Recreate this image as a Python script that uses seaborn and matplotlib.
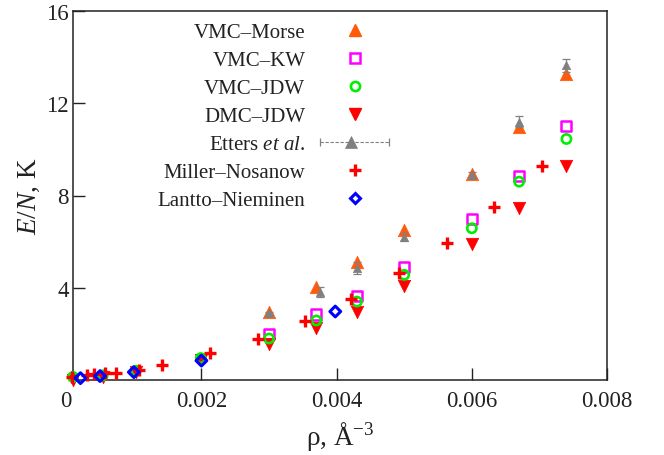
import numpy as np
import matplotlib
matplotlib.use("Agg")
import matplotlib.pyplot as plt
import seaborn as sns
from matplotlib.lines import Line2D
from matplotlib.legend_handler import HandlerBase
from matplotlib.transforms import blended_transform_factory

# ---------------- data ----------------
morse_x = [0.0030, 0.0037, 0.0043, 0.0050, 0.0060, 0.0067, 0.0074]
morse_y = [2.97, 4.04, 5.12, 6.50, 8.92, 10.95, 13.25]

kw_x = [0.0030, 0.0037, 0.0043, 0.0050, 0.0060, 0.0067, 0.0074]
kw_y = [1.98, 2.84, 3.66, 4.88, 7.00, 8.86, 11.00]

jdw_x = [0.0001, 0.00054, 0.00103, 0.00199, 0.0030, 0.0037, 0.0043, 0.0050, 0.0060, 0.0067, 0.0074]
jdw_y = [0.13, 0.20, 0.40, 0.95, 1.80, 2.58, 3.40, 4.56, 6.58, 8.60, 10.45]

dmc_x = [0.0001, 0.00054, 0.00103, 0.00199, 0.0030, 0.0037, 0.0043, 0.0050, 0.0060, 0.0067, 0.0074]
dmc_y = [0.02, 0.15, 0.33, 0.85, 1.55, 2.24, 2.97, 4.09, 5.90, 7.44, 9.27]

etters_x = [0.0030, 0.00376, 0.0043, 0.0050, 0.0060, 0.0067, 0.0074]
etters_y = [2.92, 3.82, 4.86, 6.20, 8.90, 11.20, 13.65]
etters_err = [0.05, 0.20, 0.25, 0.17, 0.10, 0.25, 0.28]

mn_x = [0.00009, 0.00030, 0.00041, 0.00058, 0.00073, 0.00108, 0.00142, 0.00212,
        0.00283, 0.00353, 0.00422, 0.00493, 0.00563, 0.00633, 0.00704]
mn_y = [0.13, 0.20, 0.25, 0.30, 0.30, 0.45, 0.65, 1.16,
        1.76, 2.54, 3.53, 4.65, 5.94, 7.50, 9.27]

ln_x = [0.00021, 0.00050, 0.00100, 0.00200, 0.00398]
ln_y = [0.08, 0.17, 0.34, 0.84, 2.97]

labels = ["VMC\u2013Morse", "VMC\u2013KW", "VMC\u2013JDW", "DMC\u2013JDW",
          r"Etters $\mathit{et\ al.}$", "Miller\u2013Nosanow", "Lantto\u2013Nieminen"]
xticks = [0.002, 0.004, 0.006, 0.008]
xtick_labels = ["0.002", "0.004", "0.006", "0.008"]
yticks = [4, 8, 12, 16]

# ---------------- style ----------------
sns.set_style("ticks")
plt.rcParams["font.family"] = ["Liberation Serif", "DejaVu Serif"]
plt.rcParams["mathtext.fontset"] = "custom"
plt.rcParams["mathtext.rm"] = "Liberation Serif"
plt.rcParams["mathtext.it"] = "Liberation Serif:italic"
plt.rcParams["mathtext.bf"] = "Liberation Serif:bold"

C_MORSE = "#ff5a0a"
C_KW = "#ff00ff"
C_JDW = "#00ee00"
C_DMC = "#ff0000"
C_ETT = "#808080"
C_MN = "#ff0000"
C_LN = "#0000ff"
C_TXT = "#222222"

fig = plt.figure(figsize=(6.64, 4.56), dpi=100)
ax = fig.add_axes([73 / 664, 1 - 381 / 456, (607 - 73) / 664, (381 - 12) / 456])

common = dict(ax=ax, legend=False, clip_on=False, zorder=3)
sns.scatterplot(x=morse_x, y=morse_y, marker="^", s=80, color=C_MORSE,
                edgecolor=C_MORSE, linewidth=0.5, **common)
sns.scatterplot(x=kw_x, y=kw_y, marker="s", s=52, color=C_KW,
                facecolor="none", edgecolor=C_KW, linewidth=1.8, **common)
sns.scatterplot(x=dmc_x, y=dmc_y, marker="v", s=80, color=C_DMC,
                edgecolor=C_DMC, linewidth=0.5, **common)
sns.scatterplot(x=jdw_x, y=jdw_y, marker="o", s=44, color=C_JDW,
                facecolor="none", edgecolor=C_JDW, linewidth=1.9, **common)
ax.errorbar(etters_x, etters_y, yerr=etters_err, fmt="none", ecolor=C_ETT,
            elinewidth=0.9, capsize=3, capthick=0.9, zorder=4, clip_on=False)
sns.scatterplot(x=etters_x, y=etters_y, marker="^", s=36, color=C_ETT,
                edgecolor=C_ETT, linewidth=0.5, ax=ax, legend=False, zorder=4, clip_on=False)
sns.scatterplot(x=mn_x, y=mn_y, marker="+", s=72, color=C_MN,
                linewidth=2.4, **common)
sns.scatterplot(x=ln_x, y=ln_y, marker="D", s=30, color=C_LN,
                facecolor="none", edgecolor=C_LN, linewidth=2.2, ax=ax, legend=False,
                zorder=5, clip_on=False)

ax.set_xlim(0.0001, 0.008)
ax.set_ylim(0, 16)
ax.set_xticks(xticks)
ax.set_xticklabels(xtick_labels)
ax.set_yticks(yticks)
ax.tick_params(axis="both", which="major", direction="in", length=8.5, width=1.0,
               labelsize=16.5, colors=C_TXT, top=False, right=False)
ax.tick_params(axis="y", pad=3)
ax.tick_params(axis="x", pad=7)
for sp in ax.spines.values():
    sp.set_linewidth(1.1)
    sp.set_color(C_TXT)
    sp.set_visible(True)

# "0" label at x = 0 (outside the shown range)
trans = blended_transform_factory(ax.transData, ax.transAxes)
ax.text(0.0, -0.027, "0", transform=trans, ha="center", va="top", fontsize=16.5,
        color=C_TXT, clip_on=False)

ax.set_xlabel("\u03c1, \u00c5$^{-3}$", fontsize=19.5, color=C_TXT, labelpad=6)
ax.set_ylabel(r"$\mathit{E/N}$, K", fontsize=19.5, color=C_TXT, labelpad=3)


class EttersHandler(HandlerBase):
    def create_artists(self, legend, orig_handle, xdescent, ydescent, width, height,
                       fontsize, trans):
        y = height / 2.0 - ydescent
        x0, x1 = -xdescent, width - xdescent
        line = Line2D([x0, x1], [y, y], color=C_ETT, lw=0.8, ls=(0, (3, 1.5)))
        caps = Line2D([x0, x1], [y, y], color=C_ETT, ls="none", marker="|",
                      markersize=6, markeredgewidth=0.9)
        mk = Line2D([(x0 + x1) / 2.0 - 3], [y], color=C_ETT, ls="none", marker="^",
                    markersize=8.5, markeredgewidth=0.5)
        for a in (line, caps, mk):
            a.set_transform(trans)
        return [line, caps, mk]


h_morse = Line2D([], [], ls="none", marker="^", ms=8.9, color=C_MORSE, mec=C_MORSE)
h_kw = Line2D([], [], ls="none", marker="s", ms=7.2, mfc="none", mec=C_KW, mew=1.8)
h_jdw = Line2D([], [], ls="none", marker="o", ms=6.6, mfc="none", mec=C_JDW, mew=1.9)
h_dmc = Line2D([], [], ls="none", marker="v", ms=8.9, color=C_DMC, mec=C_DMC)
h_ett = Line2D([], [], ls="none", marker="^", color=C_ETT)
h_mn = Line2D([], [], ls="none", marker="+", ms=8.5, mec=C_MN, mew=2.4)
h_ln = Line2D([], [], ls="none", marker="D", ms=5.5, mfc="none", mec=C_LN, mew=2.2)

leg = ax.legend([h_morse, h_kw, h_jdw, h_dmc, h_ett, h_mn, h_ln], labels,
                handler_map={h_ett: EttersHandler()},
                loc="upper right", bbox_to_anchor=(0.592, 0.968),
                markerfirst=False, frameon=False, fontsize=15,
                handlelength=3.3, handletextpad=0.72, labelspacing=0.40,
                borderpad=0, borderaxespad=0)
for t in leg.get_texts():
    t.set_color(C_TXT)

fig.savefig("out.png", dpi=100)
